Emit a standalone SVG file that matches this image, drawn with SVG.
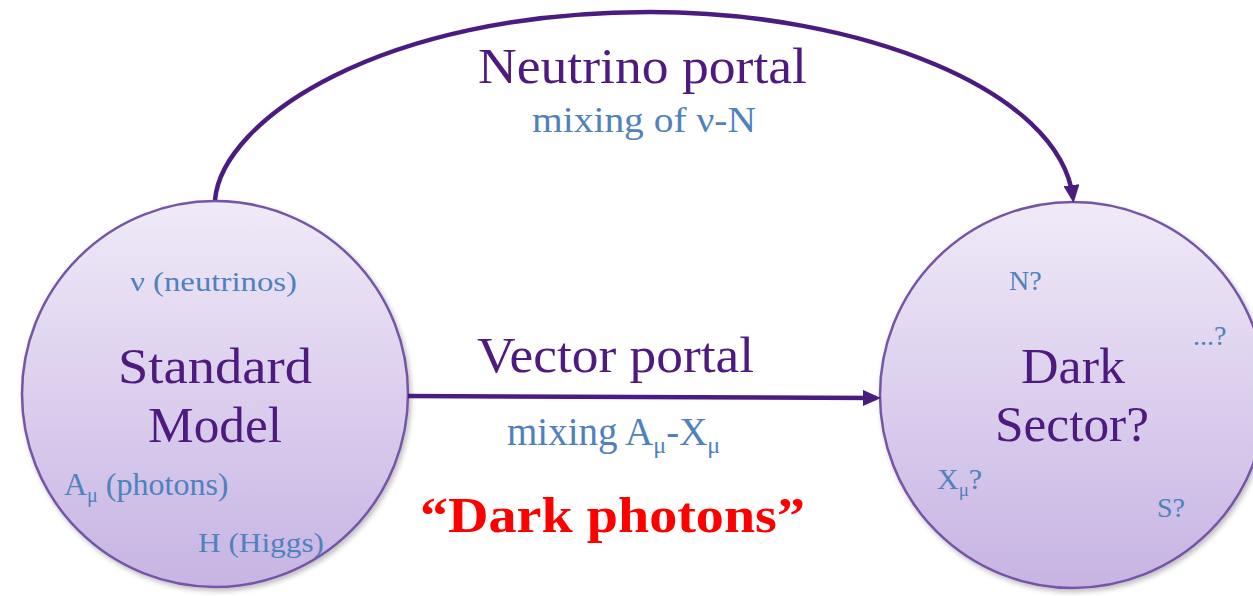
<svg xmlns="http://www.w3.org/2000/svg" width="1253" height="596" viewBox="0 0 1253 596">
<defs>
<linearGradient id="fillg" x1="0" y1="0" x2="0" y2="1">
<stop offset="0" stop-color="#F0EAF8"/>
<stop offset="1" stop-color="#C7B4E3"/>
</linearGradient>
<marker id="ah" markerWidth="18" markerHeight="16" refX="13" refY="8" orient="auto" markerUnits="userSpaceOnUse" viewBox="0 0 18 16">
<path d="M0,0 L18,8 L0,16 z" fill="#4B1C80"/>
</marker>
<filter id="sh" x="-10%" y="-10%" width="120%" height="120%">
<feDropShadow dx="2" dy="3" stdDeviation="2.5" flood-color="#000" flood-opacity="0.25"/>
</filter>
</defs>
<style>
.circ{fill:url(#fillg);stroke:#7556A6;stroke-width:2.5;filter:url(#sh)}
.title{font-family:"Liberation Serif","DejaVu Serif",serif;fill:#4E1A80;font-size:50px;text-anchor:middle}
.lbl{font-family:"Liberation Serif","DejaVu Serif",serif;fill:#4F81BD;font-size:28px}
.port{font-family:"Liberation Serif","DejaVu Serif",serif;fill:#4E1A80;font-size:50px}
.conn{fill:none;stroke:#4B1C80;stroke-width:4.5}
.red{font-family:"Liberation Serif","DejaVu Serif",serif;fill:#FF0000;font-size:50px;font-weight:bold}
</style>
<g id="sm">
<circle class="circ" cx="215" cy="394" r="193"/>
<text class="title" x="215" y="383" textLength="194" lengthAdjust="spacingAndGlyphs">Standard</text>
<text class="title" x="215" y="442" textLength="134" lengthAdjust="spacingAndGlyphs">Model</text>
<text class="lbl" x="130" y="291" textLength="167" lengthAdjust="spacingAndGlyphs">ν (neutrinos)</text>
<text class="lbl" x="64" y="495" style="font-size:32px">A<tspan style="font-size:20px" dy="7">μ</tspan><tspan dy="-7"> (photons)</tspan></text>
<text class="lbl" x="198" y="552" textLength="126" lengthAdjust="spacingAndGlyphs">H (Higgs)</text>
</g>
<g id="ds">
<circle class="circ" cx="1073" cy="395" r="193"/>
<text class="title" x="1073" y="383" textLength="104" lengthAdjust="spacingAndGlyphs">Dark</text>
<text class="title" x="1072" y="441" textLength="154" lengthAdjust="spacingAndGlyphs">Sector?</text>
<text class="lbl" x="1009" y="290">N?</text>
<text class="lbl" x="1193" y="345">...?</text>
<text class="lbl" x="937" y="489" style="font-size:30px">X<tspan style="font-size:19px" dy="7">μ</tspan><tspan dy="-7">?</tspan></text>
<text class="lbl" x="1157" y="517">S?</text>
</g>
<g id="connectors">
<path class="conn" d="M215,200 C222,120 380,12 650,12 C860,12 1060,90 1073,198" marker-end="url(#ah)"/>
<path class="conn" d="M408,396 L876,398" marker-end="url(#ah)"/>
</g>
<g id="labels">
<text class="port" x="478" y="83" textLength="329" lengthAdjust="spacingAndGlyphs">Neutrino portal</text>
<text class="lbl" x="532" y="132" style="font-size:36px" textLength="224" lengthAdjust="spacingAndGlyphs">mixing of ν-N</text>
<text class="port" x="477" y="372" textLength="277" lengthAdjust="spacingAndGlyphs">Vector portal</text>
<text class="lbl" x="507" y="445" style="font-size:39px">mixing A<tspan style="font-size:24px" dy="8">μ</tspan><tspan dy="-8">-X</tspan><tspan style="font-size:24px" dy="8">μ</tspan></text>
<text class="red" x="420" y="532" textLength="385" lengthAdjust="spacingAndGlyphs">“Dark photons”</text>
</g>
</svg>
